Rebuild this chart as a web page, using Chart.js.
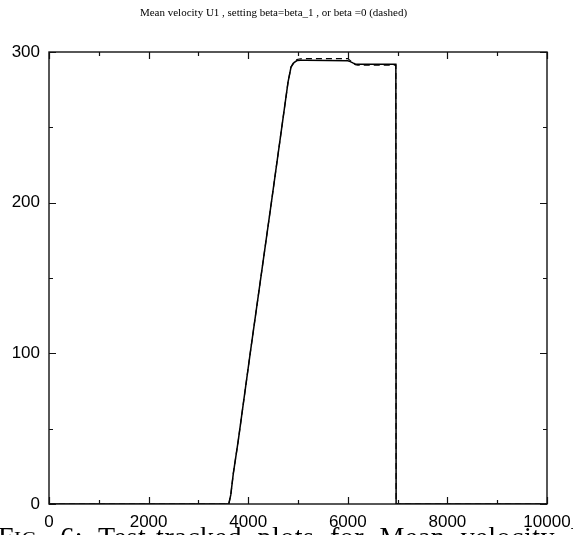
<!DOCTYPE html>
<html>
<head>
<meta charset="utf-8">
<script src="https://cdn.jsdelivr.net/npm/chart.js@4/dist/chart.umd.min.js"></script>
<style>
html,body{margin:0;padding:0;background:#fff;overflow:hidden;}
#wrap{position:relative;width:573px;height:535px;overflow:hidden;}
#caption{position:absolute;left:-2px;top:523px;white-space:nowrap;font-family:"Liberation Serif","DejaVu Serif",serif;font-size:28px;line-height:28px;color:#000;letter-spacing:0.5px;word-spacing:8px;}
</style>
</head>
<body>
<div id="wrap">
<canvas id="c" width="573" height="535"></canvas>
<div id="caption">F<span style="font-size:21px">IG</span>. 6: Test-tracked plots for Mean velocity U1</div>
</div>
<script>
// Solid series: beta = beta_1
const solidX = [0, 3550, 3610, 3650, 3700, 3800, 4040, 4465, 4800, 4860, 4920, 4980, 5050, 5150, 5600, 6000, 6050, 6100, 6150, 6200, 6600, 6965, 6970, 8000, 10000];
const solidY = [0, 0, 0, 6, 20, 42, 100, 200, 280, 290, 293, 294.3, 294.6, 294.6, 294.4, 294.2, 293.6, 292.8, 292.1, 291.8, 291.8, 291.8, 0, 0, 0];
// Dashed series: beta = 0
const dashX = [0, 3550, 3610, 3650, 3700, 3800, 4040, 4465, 4800, 4860, 4920, 4980, 5050, 5150, 5600, 6000, 6050, 6100, 6150, 6200, 6600, 6965, 6970, 8000, 10000];
const dashY = [0, 0, 0, 6, 20, 42, 100, 200, 280, 290, 293.5, 295, 295.5, 295.6, 295.6, 295.6, 294.3, 292.8, 291.6, 291.3, 291.3, 291.3, 0, 0, 0];
// Axis ticks
const xTickValues = [0, 2000, 4000, 6000, 8000, 10000];
const yTickValues = [0, 100, 200, 300];
const titleText = 'Mean velocity U1 , setting beta=beta_1 , or beta =0 (dashed)';

const toPts = (xs, ys) => xs.map((x, i) => ({x: x, y: ys[i]}));

const frameTicks = {
  id: 'frameTicks',
  afterDatasetsDraw(chart) {
    const {ctx, chartArea: a, scales} = chart;
    const xs = scales.x, ys = scales.y;
    ctx.save();
    ctx.strokeStyle = '#111';
    ctx.lineWidth = 1.4;
    ctx.strokeRect(a.left, a.top, a.right - a.left, a.bottom - a.top);
    ctx.lineWidth = 1.2;
    ctx.beginPath();
    for (let v = 0; v <= 10000; v += 1000) {
      const p = Math.round(xs.getPixelForValue(v)) + 0.5;
      const len = (v % 2000 === 0) ? 7 : 4;
      ctx.moveTo(p, a.bottom); ctx.lineTo(p, a.bottom - len);
      ctx.moveTo(p, a.top); ctx.lineTo(p, a.top + len);
    }
    for (let v = 0; v <= 300; v += 50) {
      const p = Math.round(ys.getPixelForValue(v)) + 0.5;
      const len = (v % 100 === 0) ? 7 : 4;
      ctx.moveTo(a.left, p); ctx.lineTo(a.left + len, p);
      ctx.moveTo(a.right, p); ctx.lineTo(a.right - len, p);
    }
    ctx.stroke();
    ctx.restore();
  }
};

new Chart(document.getElementById('c'), {
  type: 'scatter',
  data: {
    datasets: [
      {
        label: 'beta=beta_1',
        data: toPts(solidX, solidY),
        showLine: true,
        borderColor: '#000',
        borderWidth: 1.5,
        pointRadius: 0,
        tension: 0,
        fill: false
      },
      {
        label: 'beta=0',
        data: toPts(dashX, dashY),
        showLine: true,
        borderColor: '#000',
        borderWidth: 1.2,
        borderDash: [6, 4],
        pointRadius: 0,
        tension: 0,
        fill: false
      }
    ]
  },
  options: {
    responsive: false,
    animation: false,
    layout: {padding: {left: 0, right: 26, top: 0, bottom: 0}},
    plugins: {
      legend: {display: false},
      tooltip: {enabled: false},
      title: {
        display: true,
        text: titleText,
        color: '#000',
        font: {family: '"Liberation Serif", "DejaVu Serif", serif', size: 11, weight: 'normal'},
        padding: {top: 7, bottom: 31.8}
      }
    },
    scales: {
      x: {
        type: 'linear',
        min: 0, max: 10000,
        afterBuildTicks(scale) { scale.ticks = xTickValues.map(v => ({value: v})); },
        afterFit(scale) { scale.height = 31; scale.paddingLeft = 0; scale.paddingRight = 0; },
        grid: {display: false, drawTicks: false},
        border: {display: false},
        ticks: {
          color: '#000',
          padding: 8,
          maxRotation: 0,
          autoSkip: false,
          callback: (v) => String(v),
          font: {family: '"Liberation Sans", Arial, sans-serif', size: 17}
        }
      },
      y: {
        type: 'linear',
        min: 0, max: 300,
        afterBuildTicks(scale) { scale.ticks = yTickValues.map(v => ({value: v})); },
        afterFit(scale) { scale.width = 49; scale.paddingTop = 0; scale.paddingBottom = 0; },
        grid: {display: false, drawTicks: false},
        border: {display: false},
        ticks: {
          color: '#000',
          padding: 9,
          autoSkip: false,
          callback: (v) => String(v),
          font: {family: '"Liberation Sans", Arial, sans-serif', size: 17}
        }
      }
    }
  },
  plugins: [frameTicks]
});
</script>
</body>
</html>
